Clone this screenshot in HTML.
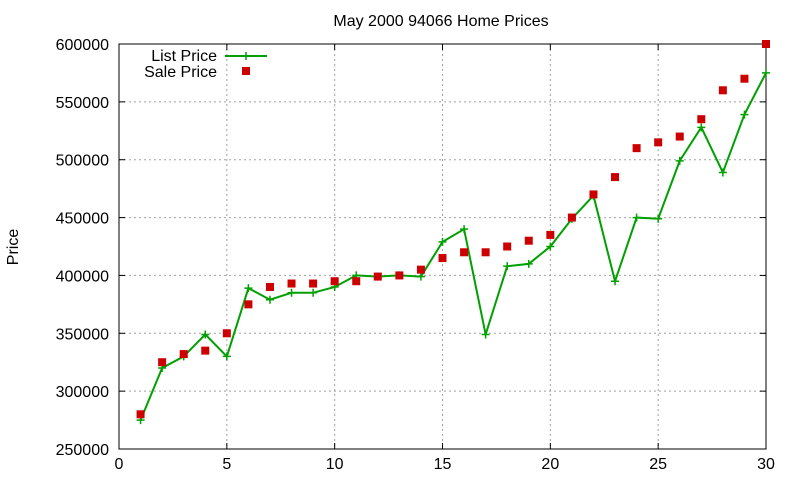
<!DOCTYPE html>
<html><head><meta charset="utf-8"><style>
html,body{margin:0;padding:0;background:#fff;}
svg{display:block;font-family:"Liberation Sans",sans-serif;}
</style></head><body>
<svg id="c" width="800" height="480" xmlns="http://www.w3.org/2000/svg"></svg>
<script>
const L=119,R=766,T=44,B=449;
const X=v=>L+(R-L)*v/30, Y=v=>B-(B-T)*(v-250000)/350000;
const list=[275000,320000,330000,349000,330000,389000,379000,385000,385000,390000,400000,399000,400000,399000,429000,440000,349000,408000,410000,425000,449000,469000,395000,450000,449000,499000,528000,489000,539000,575000];
const sale=[280000,325000,332000,335000,350000,375000,390000,393000,393000,395000,395000,399000,400000,405000,415000,420000,420000,425000,430000,435000,450000,470000,485000,510000,515000,520000,535000,560000,570000,600000];
let s='';
for(let i=0;i<=6;i++){const x=X(i*5);
 if(i>0&&i<6)s+=`<line x1="${x}" y1="${T}" x2="${x}" y2="${B}" stroke="#a0a0a0" stroke-dasharray="2,3"/>`;
 s+=`<line x1="${x}" y1="${B}" x2="${x}" y2="${B-6}" stroke="#000"/><line x1="${x}" y1="${T}" x2="${x}" y2="${T+6}" stroke="#000"/>`;
 s+=`<text x="${x}" y="${B+20}" font-size="16" text-anchor="middle">${i*5}</text>`;}
for(let j=0;j<=7;j++){const v=250000+j*50000,y=Y(v);
 if(j>0&&j<7)s+=`<line x1="${L}" y1="${y}" x2="${R}" y2="${y}" stroke="#a0a0a0" stroke-dasharray="2,3"/>`;
 s+=`<line x1="${L}" y1="${y}" x2="${L+6}" y2="${y}" stroke="#000"/><line x1="${R}" y1="${y}" x2="${R-6}" y2="${y}" stroke="#000"/>`;
 s+=`<text x="${L-10}" y="${y+6}" font-size="16" text-anchor="end">${v}</text>`;}
s+=`<rect x="${L}" y="${T}" width="${R-L}" height="${B-T}" fill="none" stroke="#000"/>`;
s+=`<text x="441" y="26" font-size="16" text-anchor="middle">May 2000 94066 Home Prices</text>`;
s+=`<text transform="translate(18,247) rotate(-90)" font-size="16" text-anchor="middle">Price</text>`;
s+=`<polyline fill="none" stroke="#00a000" stroke-width="2" points="${list.map((v,i)=>X(i+1)+','+Y(v)).join(' ')}"/>`;
const plus=(x,y)=>`<path d="M${x-4},${y}h8M${x},${y-4}v8" stroke="#00a000" stroke-width="1.5"/>`;
list.forEach((v,i)=>s+=plus(X(i+1),Y(v)));
sale.forEach((v,i)=>s+=`<rect x="${X(i+1)-4}" y="${Y(v)-4}" width="8" height="8" fill="#cc0000"/>`);
s+=`<text x="217" y="61" font-size="16" text-anchor="end">List Price</text>`;
s+=`<line x1="225" y1="56" x2="267" y2="56" stroke="#00a000" stroke-width="2"/>`+plus(246,56);
s+=`<text x="217" y="77" font-size="16" text-anchor="end">Sale Price</text>`;
s+=`<rect x="242" y="67" width="8" height="8" fill="#cc0000"/>`;
document.getElementById('c').innerHTML=s;
</script>
</body></html>
